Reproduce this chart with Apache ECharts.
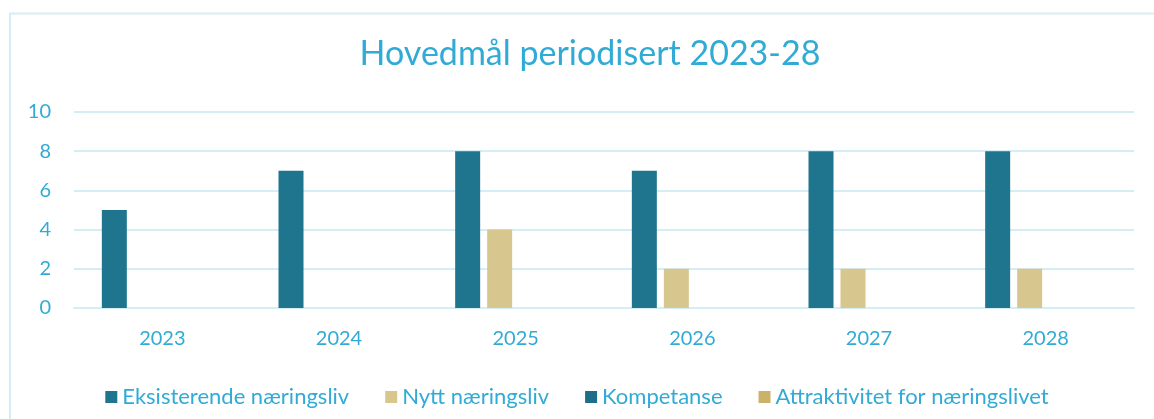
<!DOCTYPE html>
<html>
<head>
<meta charset="utf-8">
<script src="https://cdn.jsdelivr.net/npm/echarts@6/dist/echarts.min.js"></script>
<style>
  html, body { margin: 0; padding: 0; background: #fff; }
  #chart { width: 1154px; height: 419px; }
</style>
</head>
<body>
<div id="chart"></div>
<script>
// data
var years = ['2023', '2024', '2025', '2026', '2027', '2028'];
var seriesNames = ['Eksisterende næringsliv', 'Nytt næringsliv', 'Kompetanse', 'Attraktivitet for næringslivet'];
var eksisterende = [5, 7, 8, 7, 8, 8];
var nytt = [0, 0, 4, 2, 2, 2];
var kompetanse = [0, 0, 0, 0, 0, 0];
var attraktivitet = [0, 0, 0, 0, 0, 0];

var colors = ['#1f758e', '#d8c68f', '#1f6e89', '#cab26b'];
var textBlue = '#31abd6';
var lineBlue = '#d5edf5';
var font = 'Lato';

var chart = echarts.init(document.getElementById('chart'));

var allData = [eksisterende, nytt, kompetanse, attraktivitet];
var series = seriesNames.map(function(name, i) {
    return {
        name: name,
        type: 'bar',
        data: allData[i],
        barWidth: 25,
        barGap: '28%',
        itemStyle: { color: colors[i] },
        emphasis: { disabled: true }
    };
});

var option = {
    animation: false,
    color: colors,
    graphic: [{
        type: 'rect',
        shape: { x: 10, y: 13.5, width: 1200, height: 500 },
        style: { fill: 'none', stroke: lineBlue, lineWidth: 2 },
        silent: true
    }],
    title: {
        text: 'Hovedmål periodisert 2023-28',
        left: 585,
        textAlign: 'center',
        top: 32,
        textStyle: {
            color: textBlue,
            fontFamily: font,
            fontWeight: 'normal',
            fontSize: 34
        }
    },
    legend: {
        data: seriesNames,
        left: 'center',
        top: 381,
        itemWidth: 12,
        itemHeight: 12,
        itemGap: 36,
        icon: 'rect',
        textStyle: { color: textBlue, fontFamily: font, fontSize: 22 }
    },
    grid: { left: 74, right: 20, top: 112, bottom: 111 },
    xAxis: {
        type: 'category',
        data: years,
        axisTick: { show: false },
        axisLine: { lineStyle: { color: lineBlue, width: 2 } },
        axisLabel: { color: textBlue, fontFamily: font, fontSize: 20, margin: 21 }
    },
    yAxis: {
        type: 'value',
        min: 0,
        max: 10,
        interval: 2,
        axisLine: { show: false },
        axisTick: { show: false },
        splitLine: { lineStyle: { color: lineBlue, width: 2 } },
        axisLabel: { color: textBlue, fontFamily: font, fontSize: 20, margin: 23 }
    },
    series: series
};
chart.setOption(option);
</script>
</body>
</html>
